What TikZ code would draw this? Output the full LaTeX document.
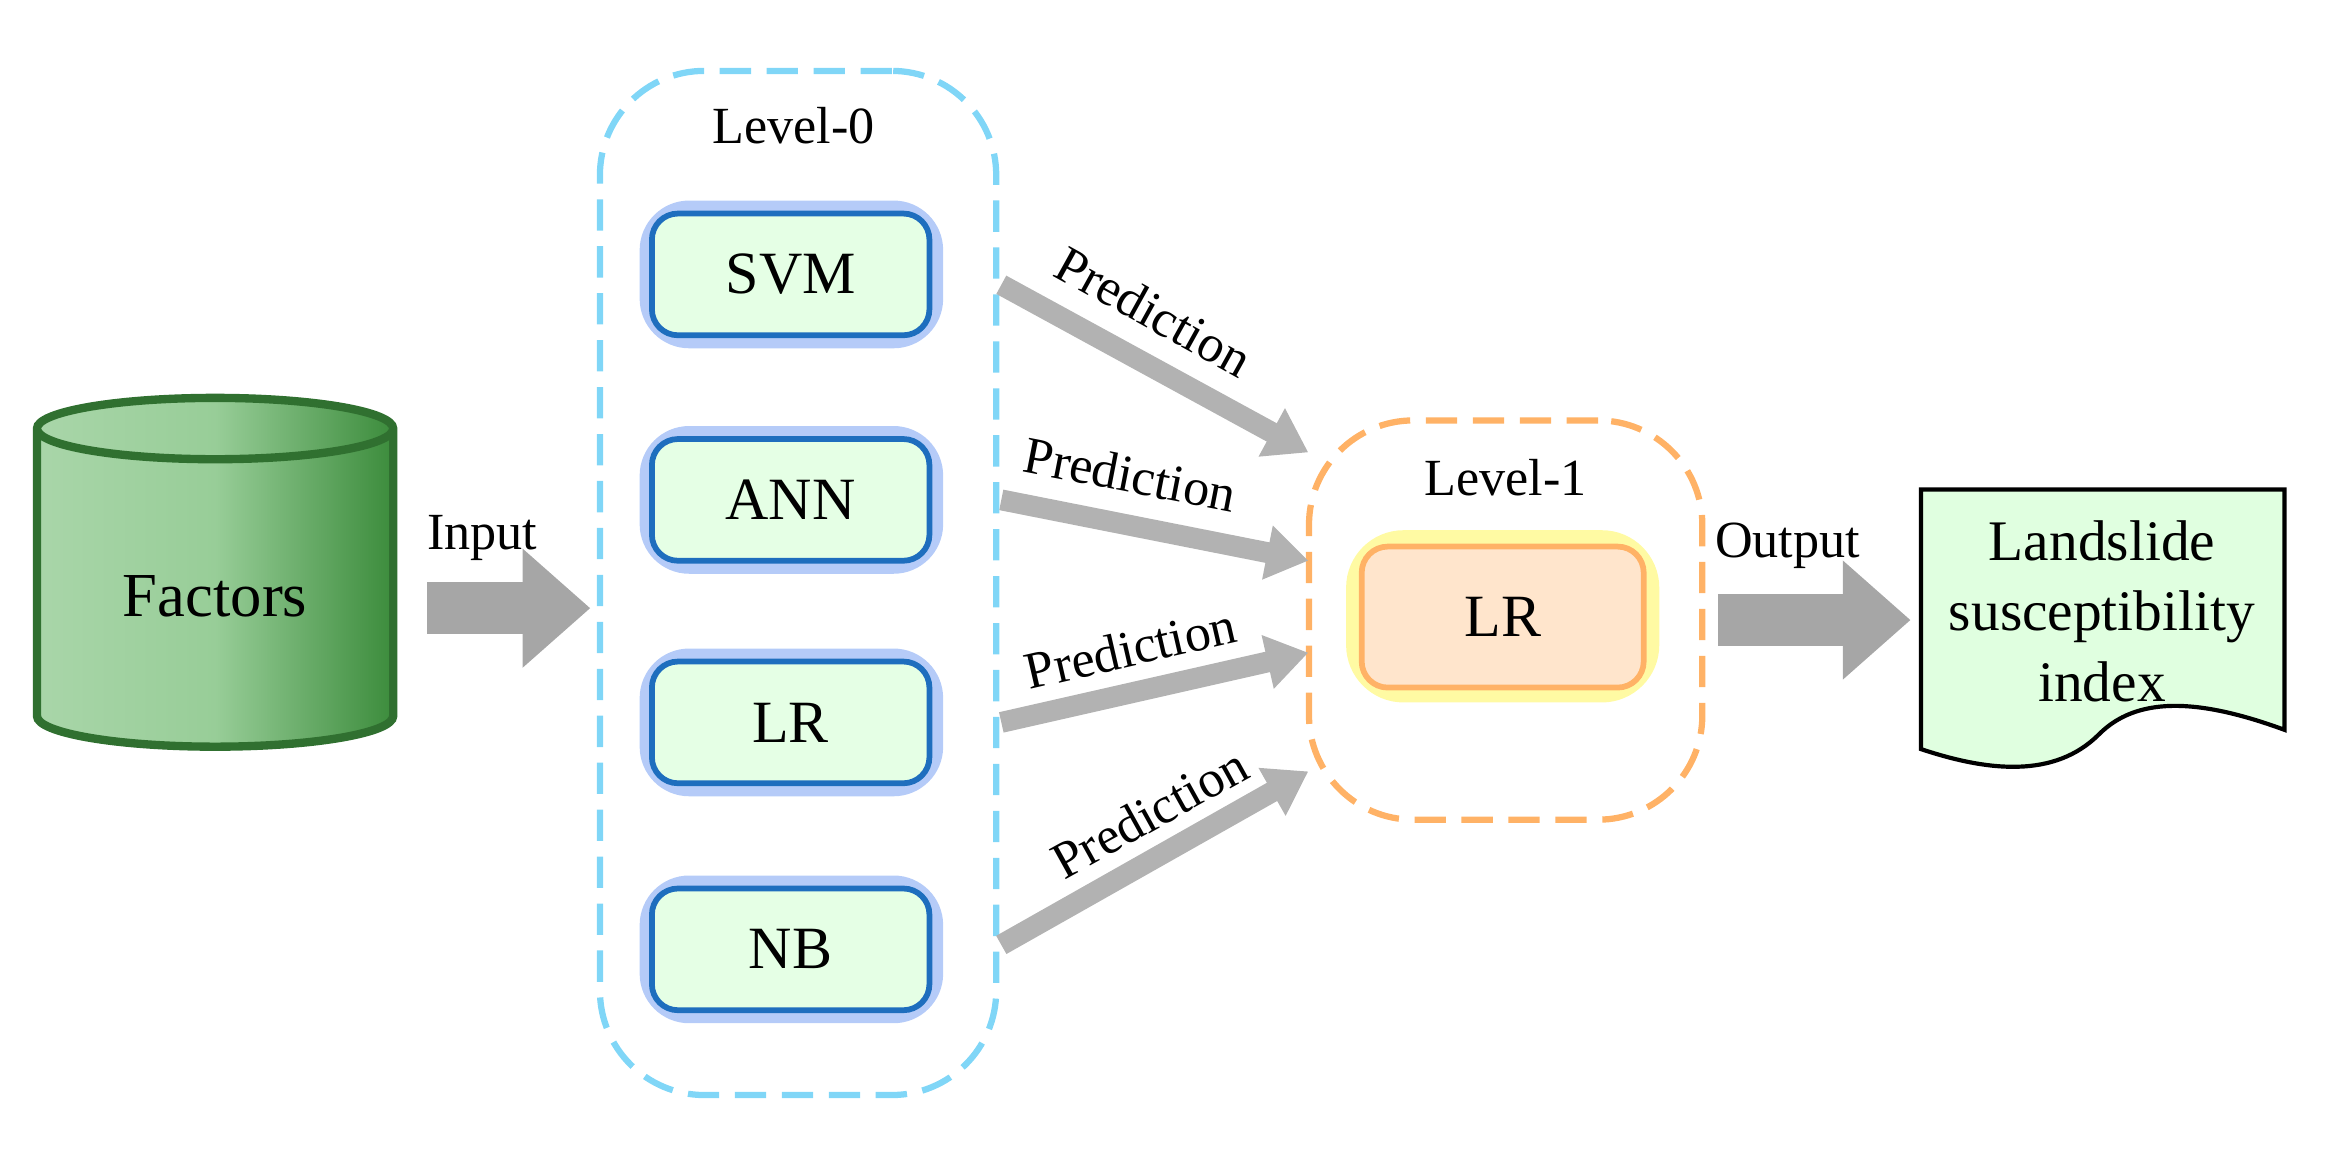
\documentclass[tikz,border=0pt]{standalone}
\usepackage{fontspec}
\setmainfont{Liberation Serif}
\usetikzlibrary{shapes.geometric,arrows.meta}
\definecolor{mblue}{RGB}{30,110,190}
\definecolor{gl}{RGB}{90,140,240}
\definecolor{cyl}{RGB}{60,140,60}
\begin{document}
\begin{tikzpicture}[x=0.01cm,y=-0.01cm,
 model/.style={draw=mblue,line width=1.1pt,rounded corners=5pt,fill=green!10,minimum width=1.87cm,minimum height=0.82cm,font=\fontsize{11.5}{13}\selectfont},
 glow/.style={draw=gl,line width=5pt,opacity=0.45,rounded corners=7pt},
 lvl/.style={draw,line width=1.2pt,rounded corners=20pt,dash pattern=on 6pt off 3pt},
 fat/.style={draw=gray!70,line width=10pt,-{Triangle[length=13pt,width=22pt]}},
 thin/.style={draw=gray!60,line width=4pt,-{Triangle[length=8pt,width=10pt]}},
 lab/.style={font=\fontsize{10}{12}\selectfont}]
\useasboundingbox (0,0) rectangle (1568,777);
% cylinder
\node[cylinder,shape border rotate=90,aspect=0.28,draw=cyl!80!black,line width=1.6pt,
 left color=green!35!gray!50, right color=cyl, middle color=green!35!gray!60,
 minimum width=2.4cm,minimum height=2.35cm,font=\fontsize{12}{14}\selectfont] (fac) at (145,402) {Factors};
% level 0
\node[lvl,draw=cyan!50,minimum width=2.67cm,minimum height=6.9cm] (L0) at (538,393) {};
\node[lab] (l0t) at (535,85) {Level-0};
\foreach \n/\t/\y in {svm/SVM/185,ann/ANN/337,lr0/LR/487,nb/NB/640}{
 \draw[glow] (440,\y-41) rectangle (627,\y+41);
 \node[model] (\n) at (533,\y) {\t};}
% level 1
\node[lvl,draw=orange!60,minimum width=2.65cm,minimum height=2.69cm] (L1) at (1015,418) {};
\node[lab] (l1t) at (1015,322) {Level-1};
\draw[draw=yellow!60,line width=6pt,opacity=0.6,rounded corners=8pt] (918,368) rectangle (1108,463);
\node[draw=orange!60,line width=1.1pt,rounded corners=5pt,fill=orange!20,minimum width=1.9cm,minimum height=0.95cm,font=\fontsize{11.5}{13}\selectfont] (lr1) at (1013,416) {LR};
% document
\node[minimum width=2.45cm,minimum height=1.6cm] (doc) at (1417,415) {};
\draw[line width=0.8pt,fill=green!12] (1295,330) -- (1540,330) -- (1540,492)
 .. controls (1480,470) and (1440,470) .. (1415,495)
 .. controls (1385,525) and (1340,520) .. (1295,505) -- cycle;
\node[align=center,font=\fontsize{11}{13.5}\selectfont] (doct) at (1417,412) {Landslide\\susceptibility\\index};
% fat arrows
\coordinate (ia) at (288,410); \coordinate (ib) at (398,410);
\draw[fat] (ia) -- (ib);
\node[lab] (inl) at (325,363) {Input};
\coordinate (oa) at (1158,418); \coordinate (ob) at (1288,418);
\draw[fat] (oa) -- (ob);
\node[lab] (outl) at (1205,368) {Output};
% predictions
\coordinate (p1a) at (675,192); \coordinate (p1b) at (882,305);
\coordinate (p2a) at (675,337); \coordinate (p2b) at (882,378);
\coordinate (p3a) at (675,487); \coordinate (p3b) at (882,440);
\coordinate (p4a) at (675,637); \coordinate (p4b) at (882,520);
\draw[thin] (p1a) -- (p1b);
\draw[thin] (p2a) -- (p2b);
\draw[thin] (p3a) -- (p3b);
\draw[thin] (p4a) -- (p4b);
\node[lab,rotate=-29] (t1) at (778,210) {Prediction};
\node[lab,rotate=-11] (t2) at (762,320) {Prediction};
\node[lab,rotate=13] (t3) at (762,437) {Prediction};
\node[lab,rotate=29] (t4) at (775,548) {Prediction};
\end{tikzpicture}
\end{document}
